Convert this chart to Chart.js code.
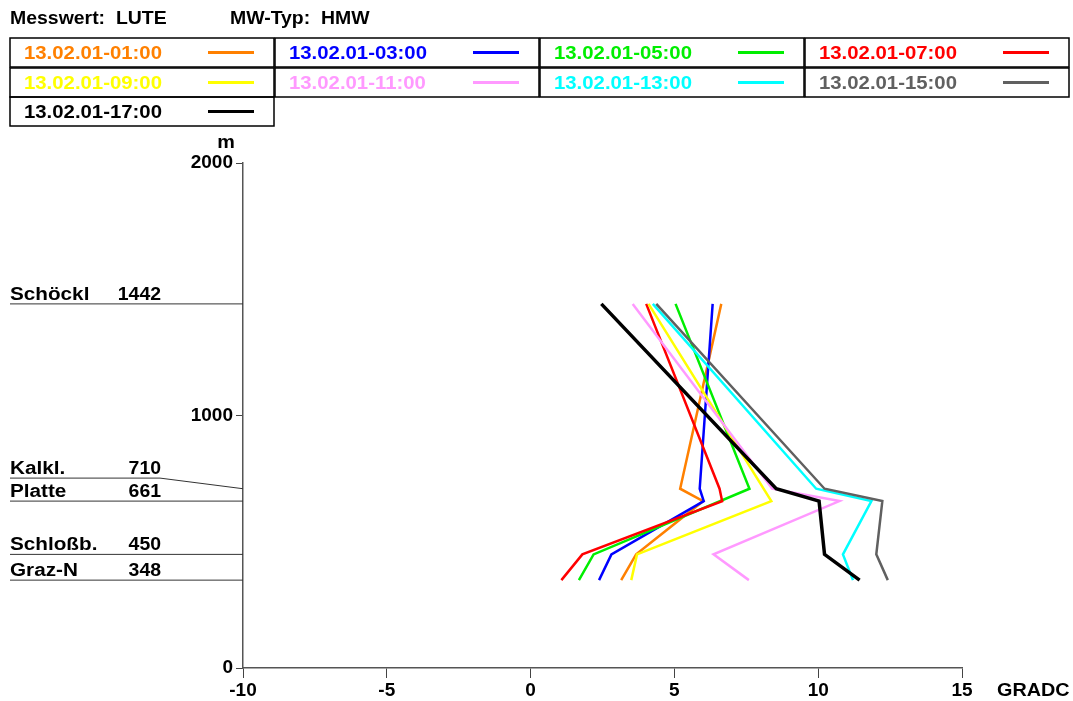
<!DOCTYPE html>
<html>
<head>
<meta charset="utf-8">
<script src="https://cdn.jsdelivr.net/npm/chart.js@4/dist/chart.umd.min.js"></script>
<style>
  body { margin: 0; background: #fff; }
  #wrap { width: 1073px; height: 701px; }
</style>
</head>
<body>
<div id="wrap"><canvas id="myChart" width="1073" height="701"></canvas></div>
<script>
// station heights (m) and names
const heights = [348, 450, 661, 710, 1442];
const stationNames = ["Graz-N", "Schloßb.", "Platte", "Kalkl.", "Schöckl"];

// series labels + colours
const seriesLabels = [
  "13.02.01-01:00", "13.02.01-03:00", "13.02.01-05:00", "13.02.01-07:00",
  "13.02.01-09:00", "13.02.01-11:00", "13.02.01-13:00", "13.02.01-15:00",
  "13.02.01-17:00",
];
const seriesColors = [
  "#ff8000", "#0000ff", "#00ee00", "#ff0000",
  "#ffff00", "#ff99ff", "#00ffff", "#606060", "#000000",
];

// temperatures (GRADC) per station, same order as heights
const t0100 = [3.15, 3.67, 6.0, 5.2, 6.63];
const t0300 = [2.38, 2.81, 6.02, 5.88, 6.33];
const t0500 = [1.68, 2.19, null, 7.61, 5.04];
const t0700 = [1.07, 1.80, 6.66, 6.57, 4.02];
const t0900 = [3.50, 3.70, 8.37, null, 4.1];
const t1100 = [7.59, 6.36, 10.74, 8.4, 3.55];
const t1300 = [11.21, 10.86, 11.85, 9.93, 4.25];
const t1500 = [12.42, 12.02, 12.23, 10.22, 4.37];
const t1700 = [11.44, 10.22, 10.03, 8.54, 2.46];
const seriesValues = [t0100, t0300, t0500, t0700, t0900, t1100, t1300, t1500, t1700];

// axis ticks
const xTicks = [-10, -5, 0, 5, 10, 15];
const yTicks = [0, 1000, 2000];

const FONT = "Arial, 'Liberation Sans', sans-serif";

const datasets = seriesValues.map((vals, i) => ({
  label: seriesLabels[i],
  data: vals.map((v, j) => ({ x: v, y: heights[j] })),
  borderColor: seriesColors[i],
  backgroundColor: seriesColors[i],
  borderWidth: i === 8 ? 3.5 : 2.5,
  pointRadius: 0,
  showLine: true,
  spanGaps: true,
  tension: 0,
  order: seriesValues.length - i, // later series on top
}));

// text a bit wider than the installed Arial metrics
const wideText = (ctx, text, x, y, sx) => {
  ctx.save();
  ctx.translate(x, y);
  ctx.scale(sx, 1);
  ctx.fillText(text, 0, 0);
  ctx.restore();
};

// header, legend table, station markers, axis units
const decorations = {
  id: "decorations",
  afterDraw(chart) {
    const ctx = chart.ctx;
    const y = chart.scales.y;
    const area = chart.chartArea;
    ctx.save();
    ctx.textBaseline = "middle";

    // header
    ctx.font = "bold 18px " + FONT;
    ctx.fillStyle = "#000";
    ctx.textAlign = "left";
    wideText(ctx, "Messwert:  LUTE", 10, 19, 1.08);
    wideText(ctx, "MW-Typ:  HMW", 230, 19, 1.08);

    // legend table
    const colX = [10, 275, 540, 805];
    const colW = 264;
    const rowY = [38, 68, 97];
    const rowH = 29;
    ctx.font = "bold 18px " + FONT;
    seriesLabels.forEach((lab, i) => {
      const cx = colX[i % 4];
      const cy = rowY[Math.floor(i / 4)];
      ctx.strokeStyle = "#000";
      ctx.lineWidth = 1.5;
      ctx.strokeRect(cx, cy, colW, rowH);
      ctx.fillStyle = seriesColors[i];
      wideText(ctx, lab, cx + 14, cy + rowH / 2 + 2, 1.13);
      ctx.strokeStyle = seriesColors[i];
      ctx.lineWidth = 3;
      ctx.beginPath();
      ctx.moveTo(cx + 198, cy + rowH / 2);
      ctx.lineTo(cx + 244, cy + rowH / 2);
      ctx.stroke();
    });

    // station markers
    ctx.font = "bold 18px " + FONT;
    ctx.fillStyle = "#000";
    ctx.textBaseline = "alphabetic";
    let prevLabelY = Infinity;
    heights.forEach((h, i) => {
      const py = y.getPixelForValue(h);
      let ly = py;
      if (prevLabelY - ly < 23) ly = prevLabelY - 23;
      prevLabelY = ly;
      ctx.strokeStyle = "#333";
      ctx.lineWidth = 1;
      ctx.beginPath();
      ctx.moveTo(10, ly);
      if (ly !== py) {
        ctx.lineTo(160, ly);
        ctx.lineTo(area.left, py);
      } else {
        ctx.lineTo(area.left, py);
      }
      ctx.stroke();
      ctx.textAlign = "left";
      wideText(ctx, stationNames[i], 10, ly - 4, 1.15);
      ctx.textAlign = "right";
      wideText(ctx, String(h), 161, ly - 4, 1.08);
    });

    // units
    ctx.textBaseline = "middle";
    ctx.textAlign = "center";
    wideText(ctx, "m", 226, 143, 1.1);
    ctx.textAlign = "left";
    wideText(ctx, "GRADC", 997, 691, 1.1);
    ctx.restore();
  },
};

new Chart(document.getElementById("myChart").getContext("2d"), {
  type: "scatter",
  data: { datasets },
  options: {
    responsive: false,
    animation: false,
    devicePixelRatio: 1,
    layout: { padding: { left: 0, top: 163, right: 111, bottom: 0 } },
    plugins: { legend: { display: false }, tooltip: { enabled: false } },
    scales: {
      x: {
        type: "linear",
        min: -10,
        max: 15,
        afterBuildTicks: (s) => { s.ticks = xTicks.map((v) => ({ value: v })); },
        afterFit: (s) => { s.height = 33; },
        grid: { drawOnChartArea: false, tickLength: 10, color: "#444" },
        border: { color: "#555", width: 1.5 },
        ticks: {
          color: "#000", padding: 1,
          callback: (v) => String(v),
          font: { family: FONT, size: 19, weight: "bold" },
        },
      },
      y: {
        type: "linear",
        min: 0,
        max: 2000,
        afterBuildTicks: (s) => { s.ticks = yTicks.map((v) => ({ value: v })); },
        afterFit: (s) => { s.width = 243; },
        grid: { drawOnChartArea: false, tickLength: 7, color: "#444" },
        border: { color: "#555", width: 1.5 },
        ticks: {
          color: "#000", padding: 3,
          callback: (v) => String(v),
          font: { family: FONT, size: 19, weight: "bold" },
        },
      },
    },
  },
  plugins: [decorations],
});
</script>
</body>
</html>
